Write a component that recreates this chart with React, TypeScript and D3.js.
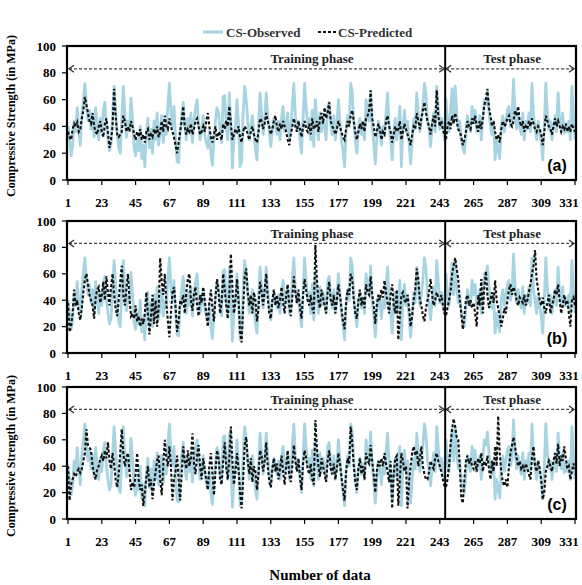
import * as d3 from "d3";

// CS-Observed (same measured values in all three panels)
const observed = [
  40, 30, 18, 25, 44, 36, 54, 38, 26, 48, 60, 72, 55, 44, 52, 38, 48, 32, 54, 40, 30, 46,
  36, 52, 58, 40, 30, 22, 26, 48, 70, 52, 36, 24, 20, 46, 70, 50, 32, 44, 38, 61, 45, 24,
  18, 30, 22, 40, 16, 26, 10, 34, 46, 24, 38, 20, 44, 30, 50, 26, 36, 48, 28, 40, 34, 56,
  72, 50, 40, 55, 30, 14, 13, 36, 48, 58, 40, 30, 46, 36, 50, 28, 44, 54, 60, 42, 30, 38,
  48, 34, 28, 24, 36, 20, 11, 30, 44, 54, 50, 36, 28, 62, 63, 40, 30, 65, 44, 9, 30, 40,
  60, 42, 10, 14, 50, 70, 60, 44, 30, 40, 48, 36, 22, 15, 40, 65, 50, 34, 44, 65, 48, 36,
  25, 38, 46, 40, 34, 44, 30, 46, 55, 36, 40, 50, 30, 36, 56, 72, 48, 38, 44, 30, 20, 46,
  72, 54, 40, 46, 30, 52, 25, 60, 44, 30, 50, 36, 46, 40, 30, 55, 58, 42, 34, 48, 30, 40,
  60, 44, 30, 22, 10, 36, 48, 40, 72, 66, 44, 30, 20, 38, 46, 34, 42, 30, 60, 50, 44, 66,
  40, 28, 12, 30, 44, 38, 26, 40, 34, 50, 65, 42, 30, 15, 36, 46, 30, 40, 55, 10, 40, 52,
  36, 44, 28, 12, 30, 46, 38, 65, 50, 36, 44, 56, 72, 64, 44, 38, 25, 40, 50, 36, 70, 54,
  38, 46, 40, 30, 60, 44, 36, 52, 68, 44, 70, 50, 38, 44, 30, 24, 20, 34, 48, 40, 36, 55,
  44, 52, 36, 40, 48, 30, 46, 60, 56, 66, 50, 40, 34, 44, 15, 30, 22, 16, 40, 48, 36, 44,
  52, 55, 40, 46, 75, 50, 38, 48, 40, 34, 50, 30, 44, 38, 50, 36, 72, 48, 40, 30, 44, 36,
  28, 15, 40, 72, 50, 38, 44, 30, 40, 48, 36, 65, 44, 38, 50, 35, 42, 36, 44, 30, 70, 46,
  30,
];

// CS-Predicted, panel (a)
const predictedA = [
  36, 32, 30, 38, 42, 40, 43, 36, 38, 46, 52, 62, 56, 50, 44, 42, 50, 40, 36, 34, 40, 44,
  36, 32, 42, 46, 36, 24, 30, 40, 68, 48, 34, 32, 34, 36, 48, 44, 36, 40, 36, 44, 40, 34,
  30, 36, 32, 38, 30, 34, 28, 36, 38, 30, 34, 32, 38, 34, 40, 32, 36, 44, 36, 48, 40, 38,
  46, 40, 36, 32, 26, 20, 28, 36, 44, 55, 40, 34, 38, 36, 42, 34, 38, 44, 46, 40, 34, 36,
  40, 36, 44, 50, 40, 32, 28, 34, 40, 30, 36, 34, 30, 42, 38, 44, 40, 55, 42, 30, 34, 38,
  36, 40, 32, 28, 36, 40, 38, 34, 30, 36, 40, 34, 30, 28, 36, 46, 44, 38, 42, 50, 44, 40,
  34, 38, 44, 48, 40, 36, 42, 38, 44, 40, 36, 30, 26, 34, 40, 46, 40, 36, 44, 38, 32, 40,
  44, 38, 36, 42, 34, 46, 38, 40, 44, 36, 46, 50, 42, 54, 46, 50, 58, 44, 40, 38, 34, 38,
  44, 40, 36, 32, 30, 38, 44, 40, 48, 52, 44, 36, 30, 36, 42, 38, 44, 36, 46, 48, 52, 67,
  46, 40, 32, 36, 42, 38, 30, 36, 34, 44, 48, 40, 36, 28, 34, 40, 36, 38, 44, 30, 36, 42,
  38, 34, 30, 26, 34, 40, 38, 50, 44, 38, 46, 52, 58, 50, 44, 40, 34, 42, 48, 40, 67, 48,
  40, 44, 38, 34, 30, 40, 44, 38, 48, 42, 50, 44, 38, 36, 32, 26, 30, 36, 44, 40, 38, 46,
  42, 48, 40, 36, 44, 38, 46, 56, 60, 68, 54, 48, 40, 44, 36, 30, 34, 28, 38, 44, 40, 42,
  46, 48, 42, 40, 44, 52, 48, 55, 44, 40, 44, 36, 40, 38, 44, 40, 46, 42, 38, 36, 40, 38,
  34, 26, 36, 48, 44, 40, 38, 34, 40, 46, 40, 44, 40, 36, 40, 38, 42, 36, 40, 36, 42, 38,
  36,
];

// CS-Predicted, panel (b)
const predictedB = [
  38, 16, 20, 30, 48, 36, 40, 30, 25, 34, 46, 56, 60, 52, 44, 40, 36, 26, 42, 48, 50, 38,
  44, 54, 40, 58, 46, 36, 50, 60, 44, 34, 28, 40, 54, 66, 44, 36, 48, 60, 42, 28, 30, 26,
  36, 24, 28, 20, 26, 22, 30, 46, 30, 14, 28, 44, 22, 40, 20, 34, 72, 54, 44, 60, 38, 24,
  12, 30, 46, 50, 36, 16, 24, 40, 38, 44, 30, 46, 56, 60, 40, 32, 44, 50, 36, 28, 44, 38,
  50, 40, 30, 20, 38, 48, 34, 24, 42, 56, 46, 30, 38, 60, 48, 36, 26, 44, 75, 50, 30, 40,
  56, 40, 16, 8, 34, 58, 64, 46, 36, 44, 30, 46, 40, 24, 34, 54, 46, 36, 48, 60, 42, 30,
  26, 40, 48, 36, 44, 34, 40, 50, 38, 30, 44, 52, 36, 28, 42, 58, 46, 38, 48, 34, 26, 44,
  56, 48, 40, 36, 44, 34, 30, 82, 56, 40, 34, 48, 42, 36, 30, 46, 54, 40, 36, 44, 30, 40,
  52, 44, 34, 24, 18, 38, 48, 44, 60, 56, 40, 30, 26, 40, 48, 36, 42, 34, 52, 46, 44, 58,
  44, 36, 22, 36, 44, 40, 48, 42, 55, 46, 38, 30, 44, 52, 36, 30, 48, 10, 28, 44, 46, 40,
  38, 44, 34, 20, 28, 40, 48, 64, 56, 40, 36, 28, 24, 34, 40, 46, 56, 44, 36, 40, 46, 42,
  40, 44, 36, 30, 28, 34, 40, 46, 60, 66, 72, 64, 56, 40, 30, 18, 28, 40, 44, 36, 40, 34,
  38, 30, 20, 44, 36, 56, 30, 50, 62, 44, 34, 40, 46, 38, 55, 40, 34, 28, 20, 26, 34, 30,
  40, 48, 52, 44, 50, 46, 40, 36, 42, 40, 38, 44, 36, 40, 46, 52, 60, 66, 78, 56, 48, 40,
  36, 42, 34, 30, 38, 44, 30, 36, 40, 48, 44, 52, 40, 30, 36, 44, 38, 40, 30, 20, 40, 42,
  36,
];

// CS-Predicted, panel (c)
const predictedC = [
  40, 14, 26, 30, 34, 32, 36, 38, 35, 38, 44, 50, 68, 56, 54, 52, 40, 34, 30, 38, 40, 45,
  48, 44, 52, 46, 58, 44, 38, 50, 42, 30, 24, 34, 50, 68, 50, 40, 46, 50, 36, 22, 28, 24,
  34, 50, 30, 22, 26, 10, 20, 32, 40, 24, 30, 15, 26, 36, 44, 48, 30, 18, 40, 60, 46, 40,
  55, 40, 14, 30, 36, 48, 30, 14, 34, 55, 44, 38, 52, 40, 46, 65, 42, 34, 48, 56, 40, 30,
  46, 38, 30, 22, 40, 50, 34, 18, 36, 52, 46, 30, 26, 44, 58, 40, 30, 46, 70, 44, 26, 36,
  50, 38, 20, 8, 30, 56, 62, 44, 34, 46, 28, 40, 36, 22, 34, 52, 48, 36, 44, 58, 40, 28,
  24, 38, 46, 36, 42, 30, 38, 48, 36, 26, 40, 52, 34, 28, 40, 56, 44, 36, 46, 32, 22, 42,
  52, 46, 38, 34, 42, 30, 26, 75, 54, 40, 32, 46, 40, 34, 28, 44, 52, 38, 34, 42, 30, 38,
  50, 42, 32, 22, 14, 36, 46, 42, 70, 58, 40, 28, 22, 38, 46, 34, 40, 30, 50, 44, 42, 56,
  44, 34, 20, 36, 44, 40, 46, 40, 50, 42, 36, 28, 44, 8, 34, 46, 48, 10, 30, 50, 44, 36,
  40, 8, 28, 40, 50, 55, 48, 52, 40, 46, 55, 40, 34, 30, 30, 36, 44, 40, 38, 46, 50, 44,
  40, 36, 30, 25, 24, 30, 40, 56, 68, 76, 70, 62, 60, 40, 16, 12, 30, 44, 48, 42, 46, 40,
  38, 44, 36, 46, 42, 50, 36, 44, 40, 48, 38, 30, 44, 36, 55, 40, 78, 50, 36, 28, 25, 30,
  24, 40, 50, 56, 62, 55, 46, 40, 44, 38, 40, 36, 42, 38, 34, 30, 46, 55, 40, 36, 44, 38,
  30, 15, 20, 36, 40, 44, 40, 36, 44, 50, 42, 57, 40, 48, 44, 55, 46, 38, 40, 30, 36, 42,
  38,
];

const xTicks = d3.range(1, 332, 22);
const yTicks = [0, 20, 40, 60, 80, 100];
const TRAIN_END = 246.5;
const PHASE_ARROW = 83;

const SERIF = "'Liberation Serif', 'Times New Roman', serif";
const SANS = "'Liberation Sans', Arial, sans-serif";
const OBS_COLOR = "#a8d4e2";

const LEFT = 68;
const RIGHT = 575;

const panels = [
  { label: "(a)", top: 46, bottom: 180, predicted: predictedA },
  { label: "(b)", top: 221, bottom: 353, predicted: predictedB },
  { label: "(c)", top: 387, bottom: 519, predicted: predictedC },
];

const xScale = d3.scaleLinear().domain([1, 331]).range([LEFT, RIGHT]);

const Panel = ({ label, top, bottom, predicted }) => {
  const yScale = d3.scaleLinear().domain([0, 100]).range([bottom, top]);
  const line = d3
    .line<number>()
    .x((_, i) => xScale(i + 1))
    .y((d) => yScale(d));

  const divX = xScale(TRAIN_END);
  const ay = yScale(PHASE_ARROW);
  const head = (x: number, dir: number) =>
    `M${x + dir * 5},${ay - 3.5}L${x},${ay}L${x + dir * 5},${ay + 3.5}`;

  return (
    <g>
      <path d={line(observed) ?? ""} fill="none" stroke={OBS_COLOR} strokeWidth={2.8} strokeLinejoin="round" />
      <path d={line(predicted) ?? ""} fill="none" stroke="#111" strokeWidth={2.1} strokeDasharray="3 2" />

      {/* phase markers */}
      <line x1={LEFT + 1} x2={divX - 1} y1={ay} y2={ay} stroke="#444" strokeWidth={1.3} strokeDasharray="3 2" />
      <line x1={divX + 1} x2={RIGHT - 1} y1={ay} y2={ay} stroke="#444" strokeWidth={1.3} strokeDasharray="3 2" />
      <path d={head(LEFT + 1, 1)} fill="none" stroke="#333" strokeWidth={1.3} />
      <path d={head(divX - 1, -1)} fill="none" stroke="#333" strokeWidth={1.3} />
      <path d={head(divX + 1, 1)} fill="none" stroke="#333" strokeWidth={1.3} />
      <path d={head(RIGHT - 1, -1)} fill="none" stroke="#333" strokeWidth={1.3} />
      <text x={312} y={top + 17} textAnchor="middle" fontFamily={SERIF} fontWeight="bold" fontSize={13} fill="#222">
        Training phase
      </text>
      <text x={(divX + RIGHT) / 2 + 2} y={top + 17} textAnchor="middle" fontFamily={SERIF} fontWeight="bold" fontSize={13} fill="#222">
        Test phase
      </text>

      <line x1={divX} x2={divX} y1={top} y2={bottom} stroke="#000" strokeWidth={2} />
      <rect x={LEFT - 1} y={top} width={RIGHT - LEFT + 2} height={bottom - top} fill="none" stroke="#000" strokeWidth={2.2} />

      {yTicks.map((t) => (
        <g key={t}>
          <line x1={LEFT - 6} x2={LEFT - 1} y1={yScale(t)} y2={yScale(t)} stroke="#000" strokeWidth={1.2} />
          <text x={56} y={yScale(t)} dy="0.35em" textAnchor="end" fontFamily={SERIF} fontWeight="bold" fontSize={13}>
            {t}
          </text>
        </g>
      ))}
      {xTicks.map((t) => (
        <g key={t}>
          <line x1={xScale(t)} x2={xScale(t)} y1={bottom} y2={bottom + 5} stroke="#000" strokeWidth={1.2} />
          <text
            x={Math.min(xScale(t), 569)}
            y={bottom + 27}
            textAnchor="middle"
            fontFamily={SERIF}
            fontWeight="bold"
            fontSize={13}
          >
            {t}
          </text>
        </g>
      ))}

      <text x={557} y={bottom - 15} dy="0.35em" textAnchor="middle" fontFamily={SANS} fontWeight="bold" fontSize={16}>
        {label}
      </text>
    </g>
  );
};

export default function App() {
  const yTitle = "Compressive Strength (in MPa)";
  return (
    <svg width={582} height={585} style={{ position: "absolute", left: 0, top: 0, background: "#fff" }}>
      {/* legend */}
      <line x1={203} x2={223} y1={32} y2={32} stroke={OBS_COLOR} strokeWidth={3} />
      <text x={226} y={32} dy="0.35em" fontFamily={SERIF} fontWeight="bold" fontSize={13} fill="#333">
        CS-Observed
      </text>
      <line x1={318} x2={336} y1={32} y2={32} stroke="#111" strokeWidth={2} strokeDasharray="3 2" />
      <text x={338} y={32} dy="0.35em" fontFamily={SERIF} fontWeight="bold" fontSize={13} fill="#333">
        CS-Predicted
      </text>

      {panels.map((p) => (
        <Panel key={p.label} {...p} />
      ))}

      <text transform="translate(15,116) rotate(-90)" textAnchor="middle" fontFamily={SERIF} fontWeight="bold" fontSize={12}>
        {yTitle}
      </text>
      <text transform="translate(15,456) rotate(-90)" textAnchor="middle" fontFamily={SERIF} fontWeight="bold" fontSize={12}>
        {yTitle}
      </text>

      <text x={320} y={580} textAnchor="middle" fontFamily={SERIF} fontWeight="bold" fontSize={15}>
        Number of data
      </text>
    </svg>
  );
}
